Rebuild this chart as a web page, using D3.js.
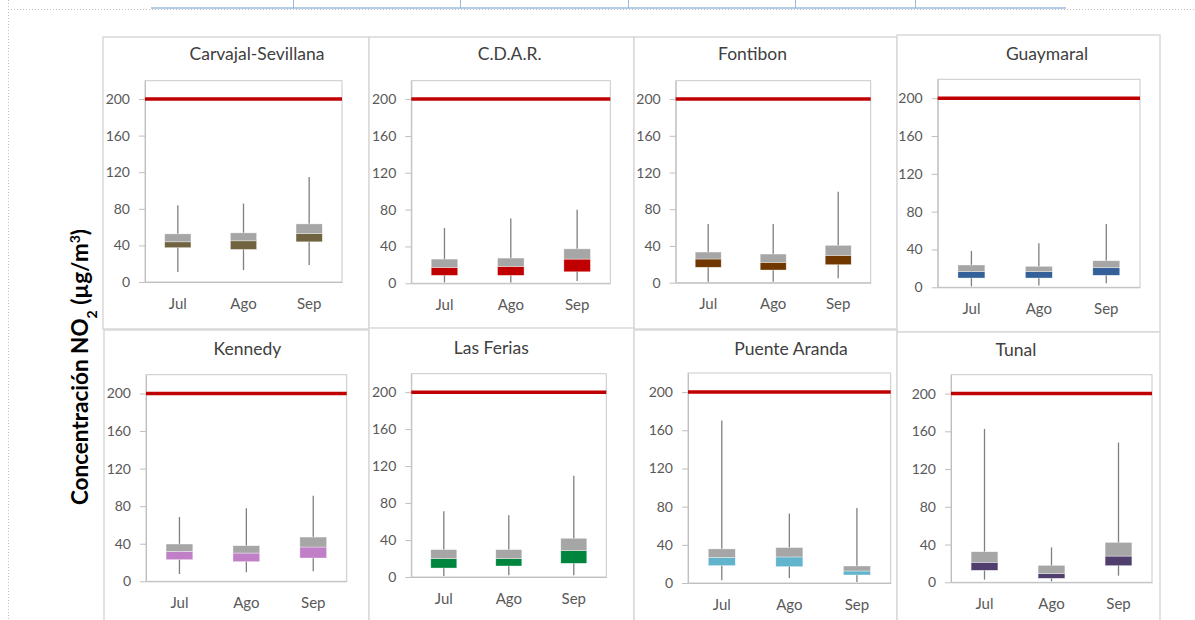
<!DOCTYPE html>
<html>
<head>
<meta charset="utf-8">
<script src="https://cdn.jsdelivr.net/npm/d3@7"></script>
<style>
  html, body { margin: 0; padding: 0; background: #fff; }
  svg { display: block; font-family: Lato, "Open Sans", sans-serif; }
</style>
</head>
<body>
<svg id="chart" width="1195" height="620"></svg>
<script>
// ---- Data: NO2 hourly concentration distribution per station and month (µg/m³)
const months = ["Jul", "Ago", "Sep"];
const stations = ["Carvajal-Sevillana", "C.D.A.R.", "Fontibon", "Guaymaral",
                  "Kennedy", "Las Ferias", "Puente Aranda", "Tunal"];
const stationColors = ["#706440", "#C00000", "#703800", "#34609A",
                       "#C07FC6", "#00853F", "#62B4CD", "#503F6E"];
const yTicks = [0, 40, 80, 120, 160, 200];
const limitValue = 200;   // hourly NO2 limit

// one row per station, one value per month (Jul, Ago, Sep)
const minVals = [[11, 13, 18.5], [1, 1, 2.5], [1, 1, 4.8], [1, 2, 4.2],
                 [7.8, 9.6, 10.6], [1, 2, 2], [2.8, 5.2, 1], [2.8, 1, 7]];
const q1Vals  = [[37.5, 35.6, 43.9], [8.6, 8.6, 12.5], [16.8, 13.8, 19.6], [9.8, 9.8, 12.7],
                 [23, 20.9, 24.8], [9.7, 11.9, 14.8], [18.2, 17.1, 8.4], [12.7, 4.2, 17.6]];
const medVals = [[43.9, 45, 53], [17.3, 18.4, 26.3], [25.8, 22.2, 29.8], [16.5, 16.5, 20.7],
                 [31.9, 30.1, 36.5], [19.9, 19.9, 28.5], [26.9, 27.3, 12.6], [21.2, 9.1, 27.8]];
const q3Vals  = [[52.6, 53.7, 63.5], [26.3, 27.4, 37.4], [33.4, 31.2, 40.7], [23.6, 22.2, 28.1],
                 [39.7, 37.9, 47.1], [29.6, 29.6, 41.9], [35.7, 37.1, 17.8], [32.4, 18, 42.3]];
const maxVals = [[83.8, 85.7, 114.7], [60.1, 70.3, 80], [63.9, 63.9, 99], [38.4, 46.5, 67],
                 [68.4, 77.7, 91.1], [71.1, 66.8, 109.7], [170.2, 72.7, 78.7], [162.5, 37, 148.1]];

// ---- Panel layout: outer frame, plot area and title centre for each station
const panels = [
  { frame: [103, 37, 369, 329], plot: [145, 80.7, 342, 282],     titleX: 257,  titleY: 60 },
  { frame: [369, 37, 634, 329], plot: [411.3, 80.7, 610.3, 283.3], titleX: 509.7, titleY: 60 },
  { frame: [634, 37, 897, 329], plot: [675.7, 80.7, 870.7, 282.7], titleX: 752.5, titleY: 60 },
  { frame: [897, 35, 1160, 332], plot: [937.7, 79.3, 1140, 287.3], titleX: 1047, titleY: 60 },
  { frame: [104, 330, 369, 625], plot: [146, 374.7, 346.7, 581.3], titleX: 247.5, titleY: 355 },
  { frame: [369, 328, 634, 625], plot: [411.3, 373.7, 606.3, 577], titleX: 491.3, titleY: 354 },
  { frame: [634, 330, 897, 625], plot: [688, 373, 890.7, 583],     titleX: 791,  titleY: 355 },
  { frame: [897, 332, 1160, 625], plot: [951, 374.7, 1152, 582.3], titleX: 1016, titleY: 356 }
];

const svg = d3.select("#chart");

// page guides of the surrounding document
svg.append("line").attr("x1", 8.5).attr("x2", 8.5).attr("y1", 0).attr("y2", 620)
  .attr("stroke", "#BFBFBF").attr("stroke-dasharray", "1,2");
svg.append("line").attr("x1", 8).attr("x2", 1195).attr("y1", 9.5).attr("y2", 9.5)
  .attr("stroke", "#BFBFBF").attr("stroke-dasharray", "1,2");
svg.append("line").attr("x1", 151).attr("x2", 1066).attr("y1", 8).attr("y2", 8)
  .attr("stroke", "#B4CDE6").attr("stroke-width", 2);
[293, 460, 628, 795, 915].forEach(x => {
  svg.append("line").attr("x1", x + 0.5).attr("x2", x + 0.5).attr("y1", 0).attr("y2", 8)
    .attr("stroke", "#9DB9DA").attr("stroke-width", 1);
});

stations.forEach((name, i) => {
  const p = panels[i];
  const [fx0, fy0, fx1, fy1] = p.frame;
  const [pl, pt, pr, pb] = p.plot;
  const g = svg.append("g");

  g.append("rect")
    .attr("x", fx0).attr("y", fy0).attr("width", fx1 - fx0).attr("height", fy1 - fy0)
    .attr("fill", "#fff").attr("stroke", "#D9D9D9").attr("stroke-width", 1.5);

  const x = d3.scaleBand().domain(months).range([pl, pr]);
  const y = d3.scaleLinear().domain([0, 220]).range([pb, pt]);

  // plot area border
  g.append("rect")
    .attr("x", pl).attr("y", pt).attr("width", pr - pl).attr("height", pb - pt)
    .attr("fill", "none").attr("stroke", "#C9C9C9").attr("stroke-width", 1);

  // value axis
  const yAxis = g.append("g")
    .attr("transform", `translate(${pl},0)`)
    .call(d3.axisLeft(y).tickValues(yTicks).tickSize(6).tickSizeOuter(0).tickPadding(9));
  yAxis.selectAll("path, line").attr("stroke", "#BFBFBF");
  yAxis.selectAll("text").attr("fill", "#595959").style("font-size", "14px")
    .style("font-family", "Lato, sans-serif");

  // category axis
  const xAxis = g.append("g")
    .attr("transform", `translate(0,${pb})`)
    .call(d3.axisBottom(x).tickSize(0).tickSizeOuter(0).tickPadding(16));
  xAxis.select("path").attr("stroke", "#BFBFBF");
  xAxis.selectAll("text").attr("fill", "#595959").style("font-size", "15px")
    .style("font-family", "Lato, sans-serif");

  const bw = x.bandwidth() * 0.4;
  const rows = months.map((m, j) => ({
    m, min: minVals[i][j], q1: q1Vals[i][j], med: medVals[i][j],
    q3: q3Vals[i][j], max: maxVals[i][j]
  }));

  // whiskers
  g.selectAll(".whisker").data(rows).enter().append("line")
    .attr("x1", d => x(d.m) + x.bandwidth() / 2)
    .attr("x2", d => x(d.m) + x.bandwidth() / 2)
    .attr("y1", d => y(d.min)).attr("y2", d => y(d.max))
    .attr("stroke", "#7F7F7F").attr("stroke-width", 1.3);

  // lower box: Q1 to median
  g.selectAll(".lower").data(rows).enter().append("rect")
    .attr("x", d => x(d.m) + (x.bandwidth() - bw) / 2)
    .attr("width", bw)
    .attr("y", d => y(d.med)).attr("height", d => y(d.q1) - y(d.med))
    .attr("fill", stationColors[i])
    .attr("stroke", "#ffffff").attr("stroke-opacity", 0.6).attr("stroke-width", 0.6);

  // upper box: median to Q3
  g.selectAll(".upper").data(rows).enter().append("rect")
    .attr("x", d => x(d.m) + (x.bandwidth() - bw) / 2)
    .attr("width", bw)
    .attr("y", d => y(d.q3)).attr("height", d => y(d.med) - y(d.q3))
    .attr("fill", "#A6A6A6")
    .attr("stroke", "#ffffff").attr("stroke-opacity", 0.6).attr("stroke-width", 0.6);

  // limit line
  g.append("line")
    .attr("x1", pl).attr("x2", pr)
    .attr("y1", y(limitValue)).attr("y2", y(limitValue))
    .attr("stroke", "#C00000").attr("stroke-width", 3.5);

  // station title
  g.append("text")
    .attr("x", p.titleX).attr("y", p.titleY)
    .attr("text-anchor", "middle")
    .attr("fill", "#404040")
    .style("font-size", "17.5px")
    .text(name);
});

// shared value-axis title
const yt = svg.append("text")
  .attr("transform", "translate(88,367) rotate(-90)")
  .attr("text-anchor", "middle")
  .attr("fill", "#000")
  .style("font-size", "22.5px")
  .style("font-weight", "bold");
yt.append("tspan").text("Concentración NO");
yt.append("tspan").attr("baseline-shift", "sub").style("font-size", "14px").text("2");
yt.append("tspan").text(" (µg/m");
yt.append("tspan").attr("baseline-shift", "super").style("font-size", "14px").text("3");
yt.append("tspan").text(")");
</script>
</body>
</html>
